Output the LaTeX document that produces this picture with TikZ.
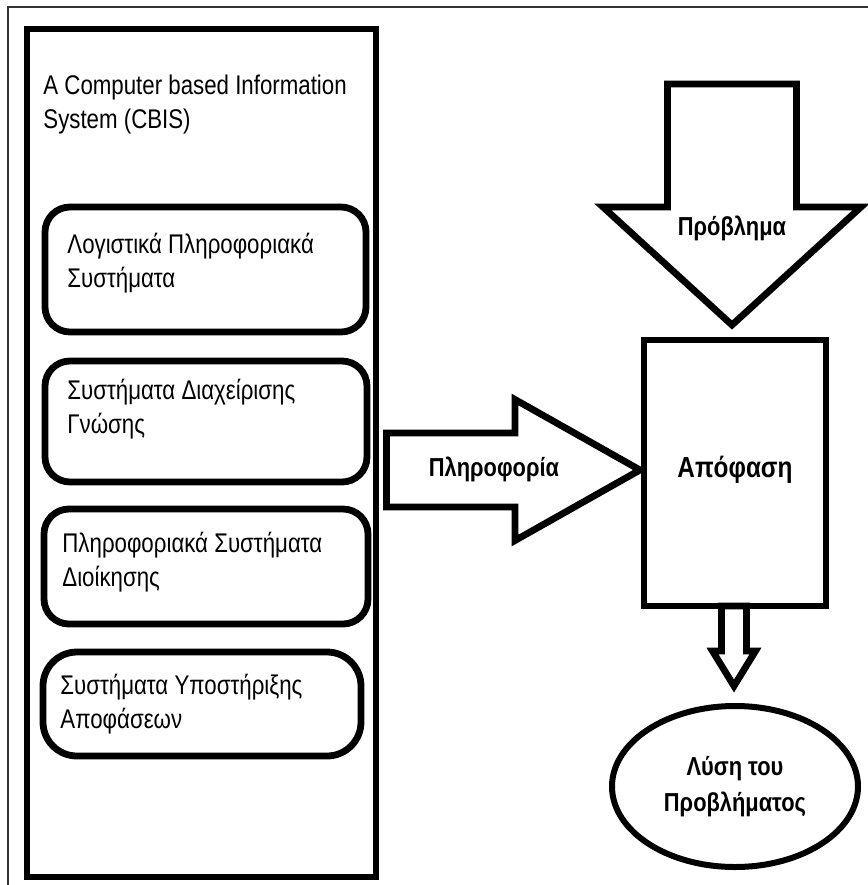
\documentclass[tikz,border=0pt]{standalone}
\usepackage{fontspec}
\setmainfont[FakeStretch=0.825]{Liberation Sans}
\newfontfamily\labelfont[FakeStretch=0.84]{Liberation Sans}
\usetikzlibrary{positioning,calc,shapes.geometric}
\tikzset{
heavy/.style={line width=3.4pt},
itembox/.style={draw,heavy,rounded corners=12.5pt,inner sep=0pt,outer sep=0pt},
itemtext/.style={anchor=west,align=left,inner sep=0pt,font=\fontsize{13.5}{17}\selectfont},
boldtext/.style={inner sep=0pt,align=center,font=\labelfont\bfseries\fontsize{13}{18}\selectfont}
}
\newcommand \mydrawdownarrow[5]
{
\draw[heavy] (#1)--++(#2,-#3)--++(#4-#2,0)--++(0,-#5)--++(-2*#4,0)--++(0,#5)--++(#4-#2,0)--cycle;
}
\newcommand \mydrawrightarrow[5]
{
\draw[heavy] (#1)--++(-#3,-#2)--++(0,#2-#4)--++(-#5,0)--++(0,2*#4)--++(#5,0)--++(0,#2-#4)--cycle;
}
\begin{document}
\begin{tikzpicture}[x=0.5pt,y=-0.5pt]
\useasboundingbox (0,0) rectangle (868,885);
\draw[line width=1pt,black!80] (8,885)--(8,7)--(868,7);
\node[draw,heavy,outer sep=0pt,minimum width=174.5pt,minimum height=424pt] (panel) at (201.5,453) {};
\node[itemtext] (title) at (43,104.5) {A Computer based Information\\System (CBIS)};
\node[itembox,minimum width=160.5pt,minimum height=62.5pt] (b1) at (205.5,269.5) {};
\node[itembox,minimum width=161pt,minimum height=60.5pt]   (b2) at (206,421.5) {};
\node[itembox,minimum width=162pt,minimum height=57.5pt]   (b3) at (206,566.5) {};
\node[itembox,minimum width=159pt,minimum height=52pt,rounded corners=17pt] (b4) at (202,704) {};
\node[itemtext] (t1) at (67,263)   {Λογιστικά Πληροφοριακά\\Συστήματα};
\node[itemtext] (t2) at (67,409.5) {Συστήματα Διαχείρισης\\Γνώσης};
\node[itemtext] (t3) at (62,562.5) {Πληροφοριακά Συστήματα\\Διοίκησης};
\node[itemtext] (t4) at (60,704.5) {Συστήματα Υποστήριξης\\Αποφάσεων};
\node[draw,line width=3pt,outer sep=0pt,minimum width=91pt,minimum height=133pt,boldtext,font=\labelfont\bfseries\fontsize{14.5}{18}\selectfont,text height=8pt,text depth=4pt] (dec) at (735,473) {Απόφαση};
\node[draw,ellipse,line width=3pt,outer sep=0pt,minimum width=123pt,minimum height=80.5pt,boldtext] (ell) at (735,786.5) {Λύση του\\Προβλήματος};
\coordinate (ptip) at ($(dec.north)+(-3,-15)$);
\coordinate (itip) at ($(dec.west)+(-4,-3)$);
\coordinate (stip) at ($(ell.north)+(-1,-20)$);
\mydrawdownarrow{ptip}{129}{118}{64.5}{123}
\mydrawrightarrow{itip}{70.5}{125}{37}{128.5}
\mydrawdownarrow{stip}{21.5}{35}{12.5}{45}
\node[boldtext] (prob) at ($(ptip)+(0,-97)$) {Πρόβλημα};
\node[boldtext] (info) at (494,469) {Πληροφορία};
\end{tikzpicture}
\end{document}
